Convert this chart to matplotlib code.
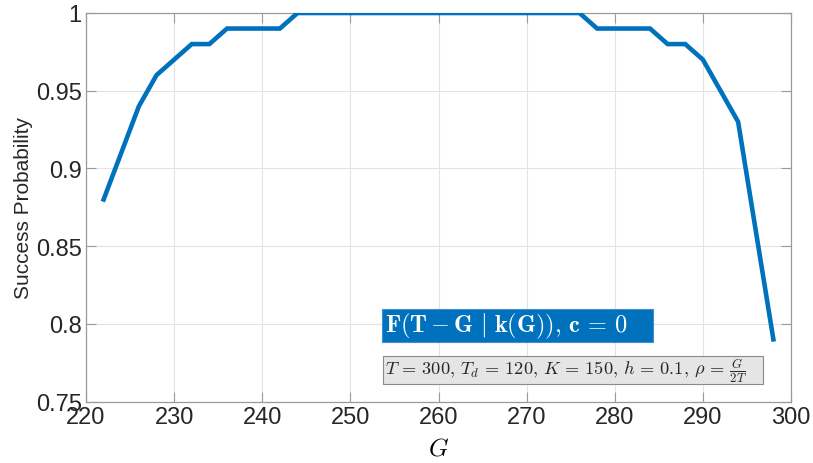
import matplotlib
matplotlib.use("Agg")
import matplotlib.pyplot as plt
from matplotlib.patches import Rectangle

plt.rcParams['mathtext.fontset'] = 'cm'
plt.rcParams['font.family'] = ['Liberation Sans', 'DejaVu Sans']

G = [222, 226, 228, 232, 234, 236, 242, 244, 276, 278, 284, 286, 288, 290, 294, 298]
P = [0.88, 0.94, 0.96, 0.98, 0.98, 0.99, 0.99, 1.0, 1.0, 0.99, 0.99, 0.98, 0.98, 0.97, 0.93, 0.79]
xticks = [220, 230, 240, 250, 260, 270, 280, 290, 300]
yticks = [0.75, 0.8, 0.85, 0.9, 0.95, 1.0]
yticklabels = ['0.75', '0.8', '0.85', '0.9', '0.95', '1']

W, H = 813, 464
fig = plt.figure(figsize=(W / 100, H / 100), dpi=100)
ax = fig.add_axes([86 / W, 1 - 402.5 / H, (791 - 86) / W, (402.5 - 14) / H])

ax.plot(G, P, color='#0072BD', lw=3.3, solid_joinstyle='miter', zorder=3)

ax.set_xlim(220, 300)
ax.set_ylim(0.75, 1.0)
ax.set_xticks(xticks)
ax.set_yticks(yticks)
ax.set_yticklabels(yticklabels)
ax.grid(True, color='#e3e3e3', lw=0.8)
ax.set_axisbelow(True)
for s in ax.spines.values():
    s.set_color('#9a9a9a')
    s.set_linewidth(0.9)
ax.tick_params(direction='in', length=7, width=0.8, color='#9a9a9a',
               labelsize=17, labelcolor='#262626', top=True, right=True)
ax.tick_params(axis='x', pad=3)
ax.tick_params(axis='y', pad=3)

ax.set_ylabel('Success Probability', fontsize=15, color='#262626', labelpad=2)
ax.set_xlabel(r'$G$', fontsize=18, labelpad=6)


def fig_rect(x0, y0, x1, y1, fc, ec, lw):
    fig.patches.append(Rectangle((x0 / W, 1 - y1 / H), (x1 - x0) / W, (y1 - y0) / H,
                                 transform=fig.transFigure, fc=fc, ec=ec, lw=lw, zorder=5))


fig_rect(382, 310, 653, 343, '#0072BD', '#3d8fd0', 0.8)
fig_rect(382.5, 357, 763, 385, '#e5e5e5', '#8a8a8a', 0.8)

fig.text(385 / W, 1 - 326.5 / H, r'$\mathbf{F(T-G\ |\ k(G)),\, c\,=\,0}$',
         fontsize=17.5, color='white', va='center', ha='left', zorder=6)
fig.text(385 / W, 1 - 371 / H,
         r'$T\,=\,300,\, T_d\,=\,120,\, K\,=\,150,\, h\,=\,0.1,\, \rho\,=\,\frac{G}{2T}$',
         fontsize=13.2, color='#262626', va='center', ha='left', zorder=6)

fig.savefig('out.png', dpi=100)
